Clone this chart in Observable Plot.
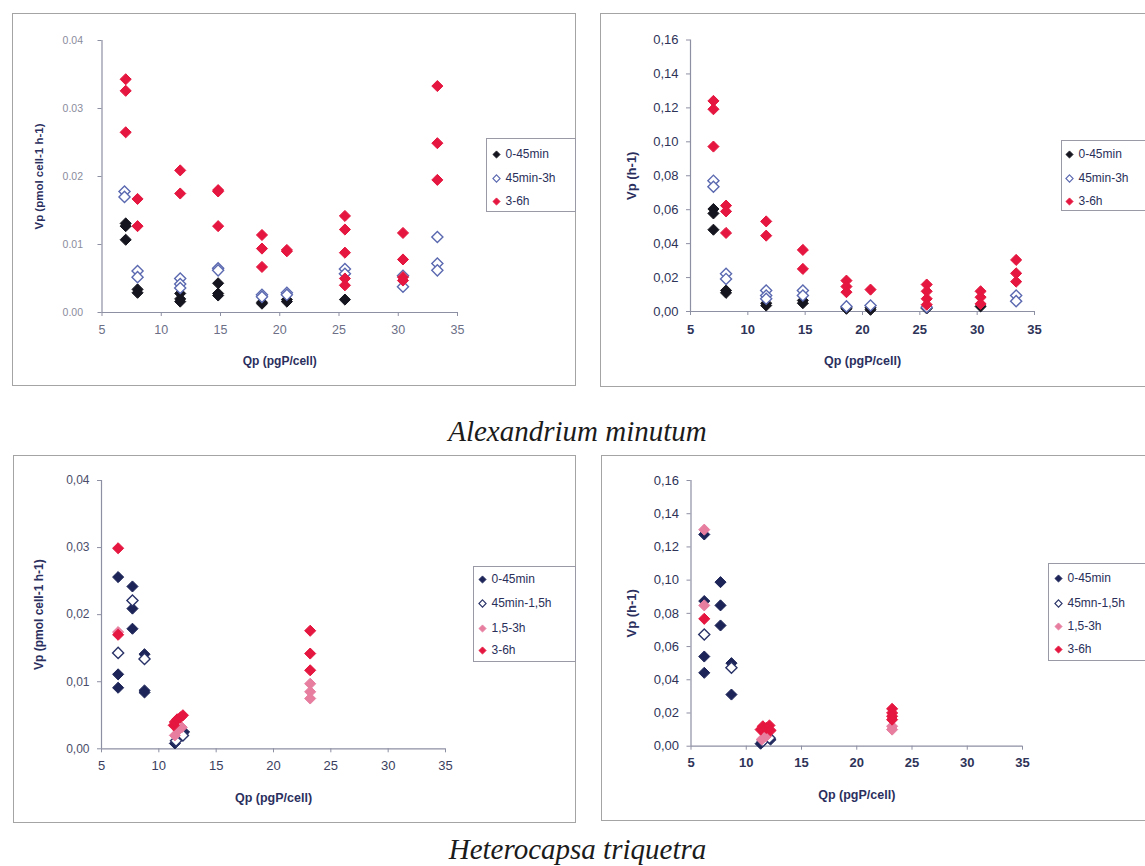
<!DOCTYPE html>
<html><head><meta charset="utf-8">
<script src="https://cdn.jsdelivr.net/npm/d3@7"></script>
<script src="https://cdn.jsdelivr.net/npm/@observablehq/plot@0.6"></script>
<style>
body{margin:0;background:#fff;}
#root{position:relative;width:1145px;height:866px;overflow:hidden;background:#fff;font-family:"Liberation Sans",Arial,sans-serif;}
.frame{position:absolute;border:1.5px solid #a4a4a4;box-sizing:border-box;}
.plotwrap{position:absolute;}
.legend{position:absolute;border:1px solid #9a9aa6;background:#fff;box-sizing:border-box;}
.legend .item{position:absolute;height:14px;display:flex;align-items:center;white-space:nowrap;font-size:12px;color:#2a2f5a;}
.legend .item svg{margin-right:5px;}
.title{position:absolute;left:0;width:1155px;text-align:center;font-family:"Liberation Serif","Times New Roman",serif;font-style:italic;font-size:29px;color:#1b1b1b;line-height:1;}
svg g[aria-label="x-axis tick"], svg g[aria-label="y-axis tick"]{stroke:#8d8fa3;}
svg g[aria-label="x-axis label"] text, svg g[aria-label="y-axis label"] text{font-weight:bold;fill:#2b2f5e;}
</style>
</head><body><div id="root"></div>
<script>
// ---------- shared tick values ----------
const xTicks = [5, 10, 15, 20, 25, 30, 35];
const yTicksCell = [0, 0.01, 0.02, 0.03, 0.04];
const yTicksRate = [0, 0.02, 0.04, 0.06, 0.08, 0.10, 0.12, 0.14, 0.16];

// ---------- Alexandrium minutum, Vp per cell (pmol cell-1 h-1) : [Qp, Vp] ----------
const amCell_0_45min = [[7.0,0.0131],[7.0,0.0127],[7.0,0.0107],[8.0,0.0034],[8.0,0.0029],[11.6,0.0028],[11.6,0.0020],[11.6,0.0016],[14.8,0.0043],[14.8,0.0028],[14.8,0.0025],[18.5,0.0015],[18.5,0.0013],[20.6,0.0019],[20.6,0.0016],[25.5,0.0019]];
const amCell_45min_3h = [[6.9,0.0178],[6.9,0.0170],[8.0,0.0061],[8.0,0.0052],[11.6,0.0050],[11.6,0.0042],[11.6,0.0036],[14.8,0.0065],[14.8,0.0062],[18.5,0.0026],[18.5,0.0023],[20.6,0.0029],[20.6,0.0026],[25.5,0.0064],[25.5,0.0057],[30.4,0.0054],[30.4,0.0038],[33.3,0.0111],[33.3,0.0072],[33.3,0.0062]];
const amCell_3_6h = [[7.0,0.0343],[7.0,0.0326],[7.0,0.0265],[8.0,0.0167],[8.0,0.0127],[11.6,0.0209],[11.6,0.0175],[14.8,0.0180],[14.8,0.0178],[14.8,0.0127],[18.5,0.0114],[18.5,0.0094],[18.5,0.0067],[20.6,0.0092],[20.6,0.0090],[25.5,0.0142],[25.5,0.0122],[25.5,0.0088],[25.5,0.0050],[25.5,0.0040],[30.4,0.0117],[30.4,0.0078],[30.4,0.0052],[30.4,0.0047],[33.3,0.0333],[33.3,0.0249],[33.3,0.0195]];

// ---------- Alexandrium minutum, Vp (h-1) ----------
const amRate_0_45min = [[7.0,0.0604],[7.0,0.0578],[7.0,0.0482],[8.1,0.0124],[8.1,0.0110],[11.6,0.0049],[11.6,0.0035],[14.8,0.0065],[14.8,0.0049],[18.6,0.0025],[18.6,0.0016],[20.7,0.0022],[20.7,0.0010],[25.6,0.0018],[30.3,0.0030]];
const amRate_45min_3h = [[7.0,0.0771],[7.0,0.0735],[8.1,0.0222],[8.1,0.0192],[11.6,0.0124],[11.6,0.0094],[11.6,0.0075],[14.8,0.0124],[14.8,0.0094],[18.6,0.0030],[20.7,0.0035],[25.6,0.0025],[33.4,0.0094],[33.4,0.0061]];
const amRate_3_6h = [[7.0,0.1241],[7.0,0.1192],[7.0,0.0972],[8.1,0.0624],[8.1,0.0590],[8.1,0.0463],[11.6,0.0531],[11.6,0.0447],[14.8,0.0363],[14.8,0.0251],[18.6,0.0182],[18.6,0.0147],[18.6,0.0114],[20.7,0.0129],[25.6,0.0159],[25.6,0.0119],[25.6,0.0075],[25.6,0.0040],[30.3,0.0119],[30.3,0.0084],[30.3,0.0045],[33.4,0.0304],[33.4,0.0225],[33.4,0.0176]];

// ---------- Heterocapsa triquetra, Vp per cell ----------
const htCell_0_45min = [[6.45,0.0256],[6.45,0.0111],[6.45,0.0091],[7.7,0.0242],[7.7,0.0209],[7.7,0.0179],[8.75,0.0141],[8.75,0.0087],[8.75,0.0084],[11.4,0.0008],[12.2,0.0025]];
const htCell_45min_1_5h = [[6.45,0.0143],[7.7,0.0221],[8.75,0.0134],[11.5,0.0012],[12.1,0.0020]];
const htCell_1_5_3h = [[6.45,0.0174],[11.4,0.0020],[11.7,0.0028],[12.0,0.0032],[23.2,0.0097],[23.2,0.0085],[23.2,0.0075]];
const htCell_3_6h = [[6.45,0.0299],[6.45,0.0170],[11.3,0.0035],[11.4,0.0040],[11.6,0.0044],[11.9,0.0047],[12.1,0.0050],[23.2,0.0176],[23.2,0.0142],[23.2,0.0117]];

// ---------- Heterocapsa triquetra, Vp (h-1) ----------
const htRate_0_45min = [[6.2,0.1275],[6.2,0.0874],[6.2,0.0540],[6.2,0.0442],[7.67,0.0988],[7.67,0.0848],[7.67,0.0727],[8.66,0.0500],[8.66,0.0311],[11.3,0.0015],[12.2,0.0040]];
const htRate_45min_1_5h = [[6.2,0.0673],[8.66,0.0472],[11.5,0.0030],[12.1,0.0050]];
const htRate_1_5_3h = [[6.2,0.1304],[6.2,0.0848],[11.4,0.0040],[11.8,0.0060],[23.2,0.0120],[23.2,0.0100]];
const htRate_3_6h = [[6.2,0.0767],[11.3,0.0100],[11.5,0.0120],[11.8,0.0110],[12.1,0.0125],[12.2,0.0095],[23.2,0.0225],[23.2,0.0200],[23.2,0.0180],[23.2,0.0160]];

// ---------- labels ----------
const amLegend = ["0-45min", "45min-3h", "3-6h"];
const htLegend3 = ["0-45min", "45min-1,5h", "1,5-3h", "3-6h"];
const htLegend4 = ["0-45min", "45mn-1,5h", "1,5-3h", "3-6h"];
const xTitle = "Qp (pgP/cell)";
const yTitleCell = "Vp (pmol cell-1 h-1)";
const yTitleRate = "Vp (h-1)";
const titles = ["Alexandrium minutum", "Heterocapsa triquetra"];

// ---------- styles ----------
const BLACK = {fill: "#15151f", stroke: "#15151f"};
const NAVY = {fill: "#1d2558", stroke: "#1d2558"};
const OPEN_BLUE = {fill: "#ffffff", stroke: "#5b69b0"};
const OPEN_NAVY = {fill: "#ffffff", stroke: "#2a3368"};
const PINK = {fill: "#e77ea0", stroke: "#e77ea0"};
const RED = {fill: "#e5163f", stroke: "#e5163f"};

const root = document.getElementById("root");
const comma = d => d.toFixed(2).replace(".", ",");
const dot = d => d.toFixed(2);

function addFrame(l, t, r, b) {
  const f = document.createElement("div");
  f.className = "frame";
  Object.assign(f.style, {left: l + "px", top: t + "px", width: (r - l) + "px", height: (b - t) + "px"});
  root.append(f);
}

function panel(cfg) {
  const marks = [
    Plot.ruleX([5], {stroke: "#8d8fa3", strokeWidth: 1.2}),
    Plot.ruleY([0], {stroke: "#8d8fa3", strokeWidth: 1.2})
  ];
  for (const s of cfg.series) {
    marks.push(Plot.dot(s.data, {x: d => d[0], y: d => d[1], symbol: "diamond2", r: cfg.r || 5,
      fill: s.st.fill, stroke: s.st.stroke, strokeWidth: s.st.fill === "#ffffff" ? 1.4 : 1}));
  }
  const svg = Plot.plot({
    width: cfg.w, height: cfg.h,
    marginLeft: cfg.ml, marginRight: cfg.mr, marginTop: cfg.mt, marginBottom: cfg.mb,
    style: {background: "transparent", overflow: "visible", fontFamily: "'Liberation Sans', Arial, sans-serif"},
    x: {domain: [5, 35], ticks: xTicks, tickFormat: d => String(d), tickSize: 4, tickPadding: cfg.xpad,
        label: xTitle, labelAnchor: "center", labelOffset: cfg.xlo, labelArrow: "none"},
    y: {domain: [0, cfg.ymax], ticks: cfg.yticks, tickFormat: cfg.fmt, tickSize: 4, tickPadding: cfg.ypad,
        label: cfg.ytitle, labelAnchor: "center", labelOffset: cfg.ylo, labelArrow: "none"},
    marks
  });
  svg.querySelectorAll('g[aria-label="x-axis tick label"] text').forEach(t => {
    t.style.fontSize = cfg.xfs + "px"; t.style.fill = cfg.xcol; t.style.fontWeight = cfg.xfw || "normal";
  });
  svg.querySelectorAll('g[aria-label="y-axis tick label"] text').forEach(t => {
    t.style.fontSize = cfg.yfs + "px"; t.style.fill = cfg.ycol; t.style.fontWeight = cfg.yfw || "normal";
  });
  svg.querySelectorAll('g[aria-label="x-axis label"] text').forEach(t => { t.style.fontSize = cfg.tfs + "px"; });
  svg.querySelectorAll('g[aria-label="y-axis label"] text').forEach(t => { t.style.fontSize = cfg.yts + "px"; });
  const wrap = document.createElement("div");
  wrap.className = "plotwrap";
  wrap.style.left = cfg.left + "px";
  wrap.style.top = cfg.top + "px";
  wrap.append(svg);
  root.append(wrap);
}

function symbolSvg(st) {
  const open = st.fill === "#ffffff";
  return `<svg width="9" height="9" viewBox="-4.5 -4.5 9 9"><path d="M0,-3.6L3.6,0L0,3.6L-3.6,0Z" fill="${st.fill}" stroke="${st.stroke}" stroke-width="${open ? 1.1 : 0.8}"/></svg>`;
}

function legend(cfg) {
  const box = document.createElement("div");
  box.className = "legend";
  Object.assign(box.style, {left: cfg.l + "px", top: cfg.t + "px", width: (cfg.r - cfg.l) + "px", height: (cfg.b - cfg.t) + "px"});
  cfg.items.forEach((name, i) => {
    const it = document.createElement("div");
    it.className = "item";
    it.style.left = (cfg.sx - cfg.l - 4.5) + "px";
    it.style.top = (cfg.ys[i] - cfg.t - 7) + "px";
    it.innerHTML = symbolSvg(cfg.styles[i]) + `<span>${name}</span>`;
    box.append(it);
  });
  root.append(box);
}

// frames
addFrame(12, 13, 576, 386);
addFrame(600, 13, 1160, 387);
addFrame(13, 455, 576, 823);
addFrame(601, 455, 1160, 821);

// Panel 1
panel({left: 0, top: 0, w: 475, h: 380, ml: 101.5, mr: 18, mt: 40, mb: 68,
  ymax: 0.04, yticks: yTicksCell, fmt: dot, ytitle: yTitleCell,
  xpad: 9, ypad: 15, xlo: 52, ylo: 67, xfs: 12.5, yfs: 10.5, xcol: "#6c6f86", ycol: "#8a8c9c", tfs: 12, yts: 11.5,
  series: [{data: amCell_0_45min, st: BLACK}, {data: amCell_45min_3h, st: OPEN_BLUE}, {data: amCell_3_6h, st: RED}]});
// Panel 2
panel({left: 590, top: 0, w: 460, h: 380, ml: 100, mr: 16, mt: 39.5, mb: 69,
  ymax: 0.16, yticks: yTicksRate, fmt: comma, ytitle: yTitleRate,
  xpad: 9, ypad: 8, xlo: 53, ylo: 64, xfs: 13, yfs: 13, xcol: "#2e3358", ycol: "#2e3358", xfw: "bold", tfs: 12.5, yts: 13,
  series: [{data: amRate_0_45min, st: BLACK}, {data: amRate_45min_3h, st: OPEN_BLUE}, {data: amRate_3_6h, st: RED}]});
// Panel 3
panel({left: 0, top: 445, w: 465, h: 375, ml: 101, mr: 20, mt: 35, mb: 71.7,
  ymax: 0.04, yticks: yTicksCell, fmt: comma, ytitle: yTitleCell,
  xpad: 8, ypad: 8, xlo: 53, ylo: 67, xfs: 13, yfs: 12, xcol: "#3a3e5e", ycol: "#4a4e6a", tfs: 12.5, yts: 12,
  series: [{data: htCell_0_45min, st: NAVY}, {data: htCell_45min_1_5h, st: OPEN_NAVY}, {data: htCell_1_5_3h, st: PINK}, {data: htCell_3_6h, st: RED}]});
// Panel 4
panel({left: 590, top: 445, w: 450, h: 375, ml: 100.5, mr: 18, mt: 35, mb: 74.3,
  ymax: 0.16, yticks: yTicksRate, fmt: comma, ytitle: yTitleRate,
  xpad: 8, ypad: 8, xlo: 53, ylo: 64, xfs: 13, yfs: 13, xcol: "#2e3358", ycol: "#2e3358", xfw: "bold", tfs: 12.5, yts: 13,
  series: [{data: htRate_0_45min, st: NAVY}, {data: htRate_45min_1_5h, st: OPEN_NAVY}, {data: htRate_1_5_3h, st: PINK}, {data: htRate_3_6h, st: RED}]});

// legends
legend({l: 486, t: 138, r: 576, b: 212, sx: 495, ys: [153, 177, 200], items: amLegend, styles: [BLACK, OPEN_BLUE, RED]});
legend({l: 1061, t: 140, r: 1160, b: 211, sx: 1068, ys: [153, 177, 200], items: amLegend, styles: [BLACK, OPEN_BLUE, RED]});
legend({l: 473, t: 566, r: 576, b: 662, sx: 481, ys: [578, 602, 627, 649], items: htLegend3, styles: [NAVY, OPEN_NAVY, PINK, RED]});
legend({l: 1048, t: 563, r: 1160, b: 661, sx: 1057, ys: [577, 602, 625, 648], items: htLegend4, styles: [NAVY, OPEN_NAVY, PINK, RED]});

// titles
[[titles[0], 432], [titles[1], 850]].forEach(([txt, cy]) => {
  const d = document.createElement("div");
  d.className = "title";
  d.style.top = (cy - 15) + "px";
  d.textContent = txt;
  root.append(d);
});
</script>
</body></html>
